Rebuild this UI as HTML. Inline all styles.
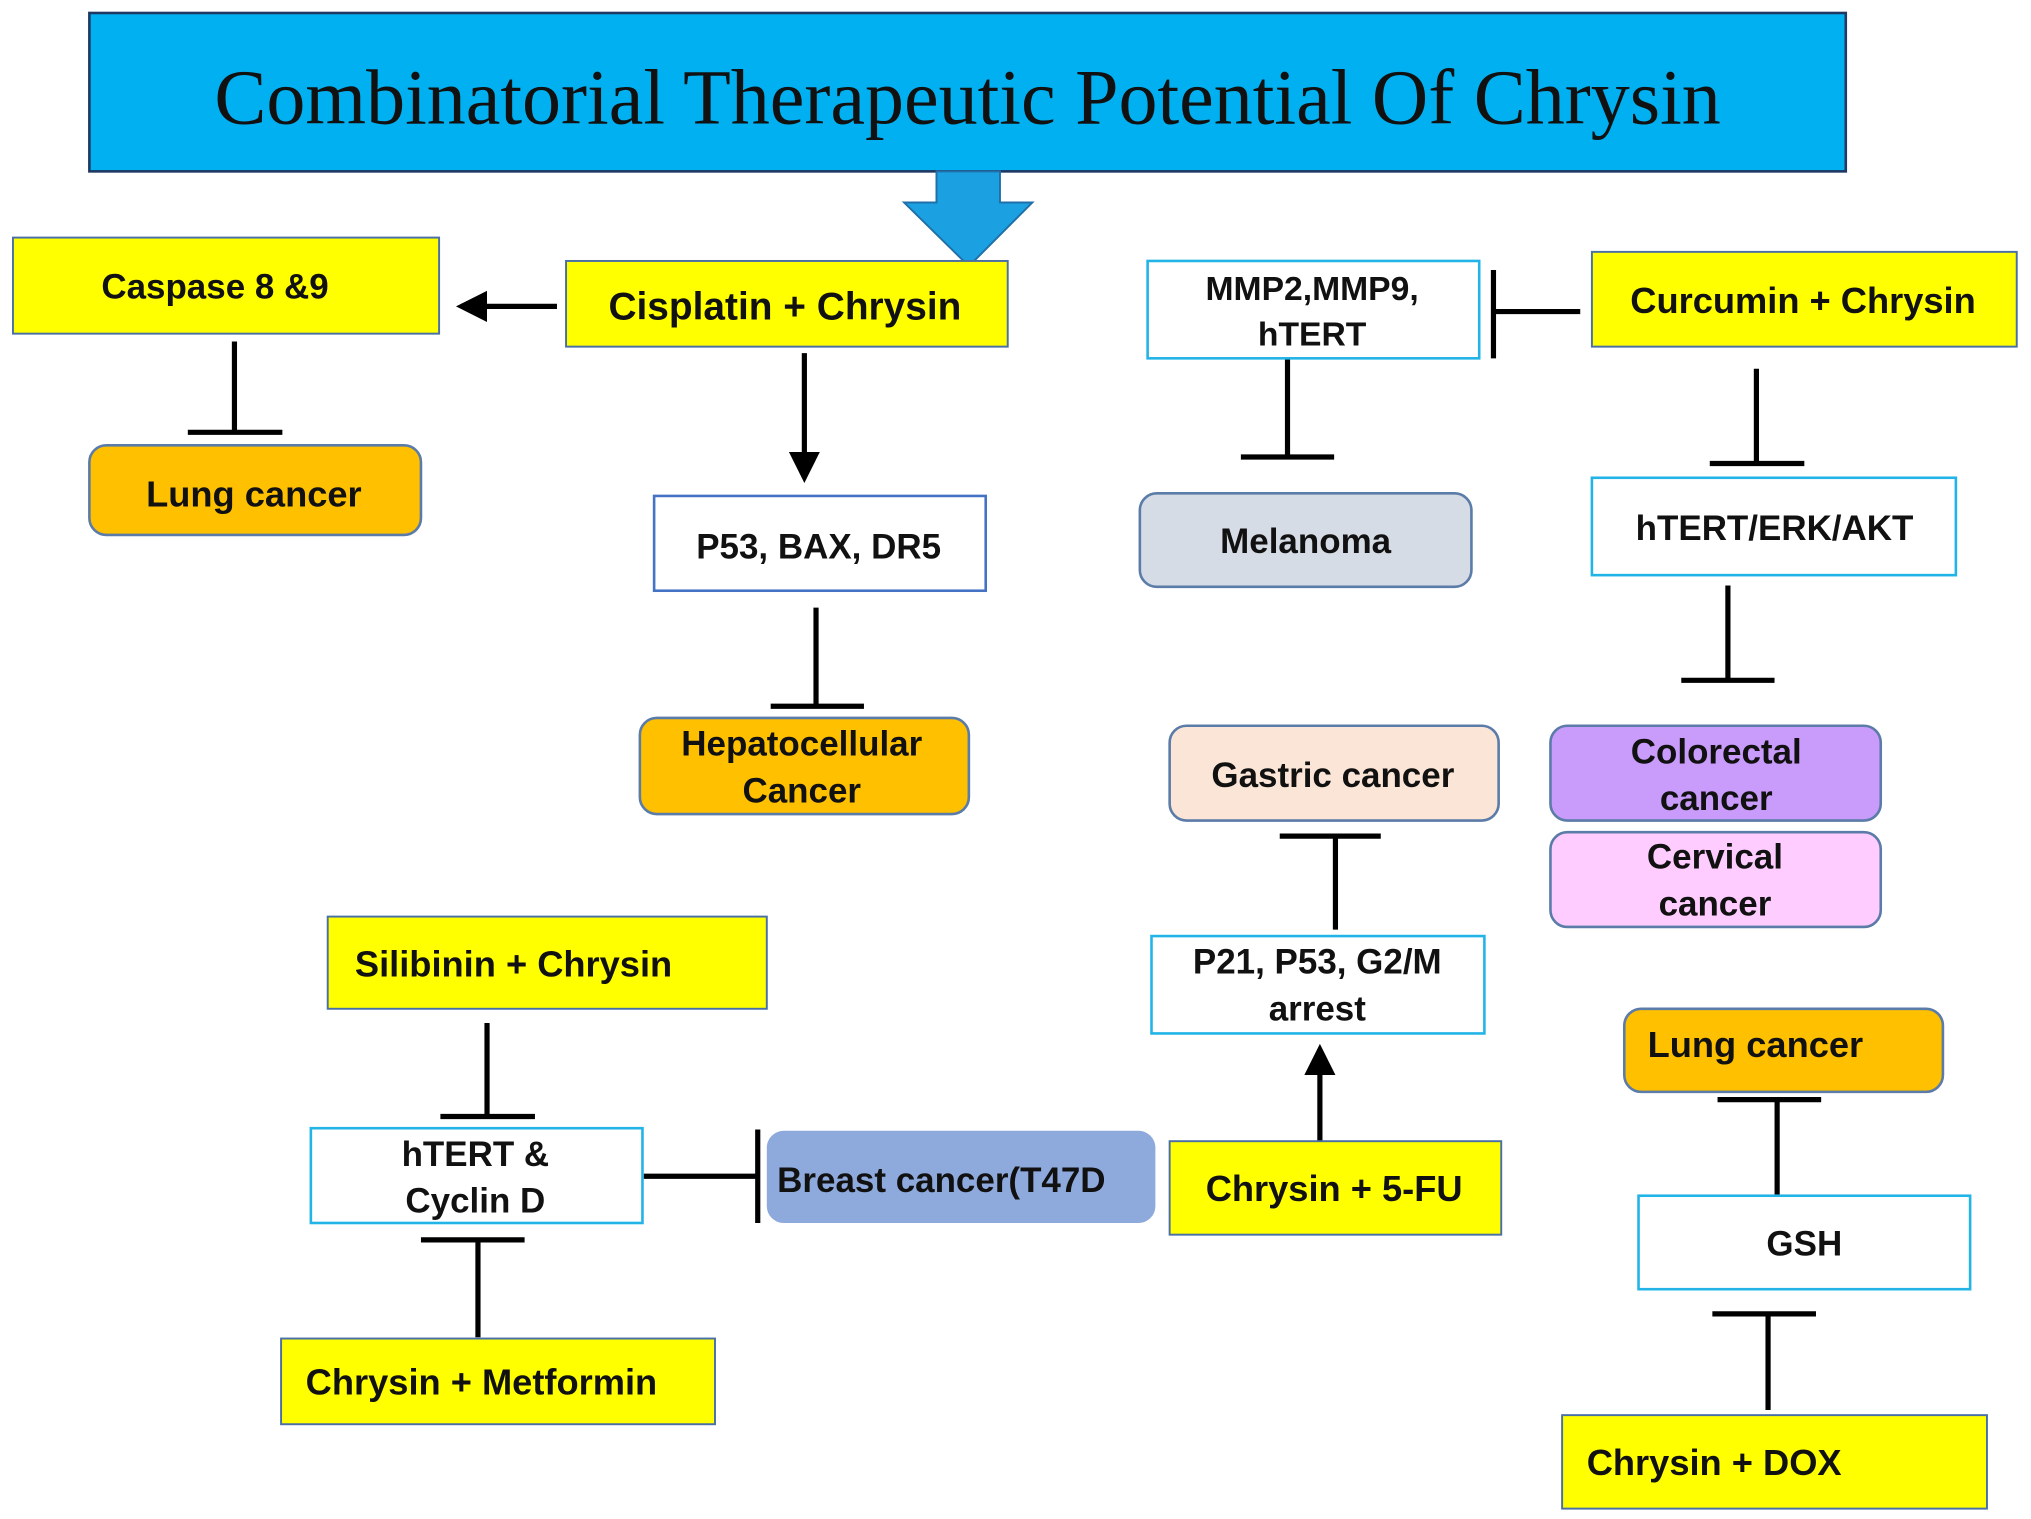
<!DOCTYPE html>
<html><head><meta charset="utf-8"><style>
html,body{margin:0;padding:0;background:#fff;}
svg{display:block;}
text{font-family:"Liberation Sans",Arial,sans-serif;font-weight:bold;fill:#111;}
.t{font-family:"Liberation Serif","Times New Roman",serif;font-weight:normal;}
</style></head><body>
<svg width="2031" height="1519" viewBox="0 0 1568 1170" preserveAspectRatio="none" xmlns="http://www.w3.org/2000/svg">
<defs>
<marker id="ah" markerWidth="6" markerHeight="6" refX="5" refY="3" orient="auto" markerUnits="strokeWidth">
<path d="M0,0 L6,3 L0,6 Z" fill="#000"/></marker>
</defs>
<!-- title -->
<rect x="69" y="10" width="1356" height="122" fill="#00B0F0" stroke="#1F3864" stroke-width="2"/>
<text class="t" x="747" y="95" font-size="60" text-anchor="middle" textLength="1163" lengthAdjust="spacingAndGlyphs">Combinatorial Therapeutic Potential Of Chrysin</text>
<path d="M723,132 L772,132 L772,156 L797,156 L748,205 L698,156 L723,156 Z" fill="#1BA1E2" stroke="#1F6FA8" stroke-width="1.5"/>

<g stroke="#000" stroke-width="4" fill="none">
<!-- cisplatin -> caspase -->
<line x1="430" y1="236" x2="356" y2="236" marker-end="url(#ah)"/>
<line x1="181" y1="263" x2="181" y2="333"/><line x1="145" y1="333" x2="218" y2="333"/>
<line x1="621" y1="272" x2="621" y2="368" marker-end="url(#ah)"/>
<line x1="630" y1="468" x2="630" y2="544"/><line x1="595" y1="544" x2="667" y2="544"/>
<!-- curcumin -->
<line x1="1220" y1="240" x2="1153" y2="240"/><line x1="1153" y1="208" x2="1153" y2="276"/>
<line x1="994" y1="276" x2="994" y2="352"/><line x1="958" y1="352" x2="1030" y2="352"/>
<line x1="1356" y1="284" x2="1356" y2="357"/><line x1="1320" y1="357" x2="1393" y2="357"/>
<line x1="1334" y1="451" x2="1334" y2="524"/><line x1="1298" y1="524" x2="1370" y2="524"/>
<!-- gastric -->
<line x1="988" y1="644" x2="1066" y2="644"/><line x1="1031" y1="644" x2="1031" y2="716"/>
<line x1="1019" y1="879" x2="1019" y2="808" marker-end="url(#ah)"/>
<!-- breast -->
<line x1="497" y1="906" x2="585" y2="906"/><line x1="585" y1="870" x2="585" y2="942"/>
<line x1="376" y1="788" x2="376" y2="860"/><line x1="340" y1="860" x2="413" y2="860"/>
<line x1="325" y1="955" x2="405" y2="955"/><line x1="369" y1="955" x2="369" y2="1030"/>
<!-- dox -->
<line x1="1326" y1="847" x2="1406" y2="847"/><line x1="1372" y1="847" x2="1372" y2="921"/>
<line x1="1322" y1="1012" x2="1402" y2="1012"/><line x1="1365" y1="1012" x2="1365" y2="1086"/>
</g>

<!-- yellow boxes -->
<g fill="#FFFF00" stroke="#4A6FA5" stroke-width="1.5">
<rect x="10" y="183" width="329" height="74"/>
<rect x="437" y="201" width="341" height="66"/>
<rect x="1229" y="194" width="328" height="73"/>
<rect x="253" y="706" width="339" height="71"/>
<rect x="217" y="1031" width="335" height="66"/>
<rect x="903" y="879" width="256" height="72"/>
<rect x="1206" y="1090" width="328" height="72"/>
</g>
<!-- white boxes -->
<g fill="#fff" stroke-width="2">
<rect x="505" y="382" width="256" height="73" stroke="#4472C4"/>
<rect x="886" y="201" width="256" height="75" stroke="#22B4E6"/>
<rect x="1229" y="368" width="281" height="75" stroke="#22B4E6"/>
<rect x="889" y="721" width="257" height="75" stroke="#22B4E6"/>
<rect x="240" y="869" width="256" height="73" stroke="#22B4E6"/>
<rect x="1265" y="921" width="256" height="72" stroke="#22B4E6"/>
</g>
<!-- rounded -->
<g stroke="#5B7BA8" stroke-width="2">
<rect x="69" y="343" width="256" height="69" rx="13" fill="#FFC000"/>
<rect x="494" y="553" width="254" height="74" rx="13" fill="#FFC000"/>
<rect x="880" y="380" width="256" height="72" rx="13" fill="#D6DCE5"/>
<rect x="903" y="559" width="254" height="73" rx="13" fill="#FBE5D6"/>
<rect x="1197" y="559" width="255" height="73" rx="13" fill="#C99BFA"/>
<rect x="1197" y="641" width="255" height="73" rx="13" fill="#FFCCFF"/>
<rect x="1254" y="777" width="246" height="64" rx="13" fill="#FFC000"/>
<rect x="592" y="871" width="300" height="71" rx="13" fill="#8EA9DB" stroke="none"/>
</g>

<g font-size="27">
<text x="166" y="230" text-anchor="middle">Caspase 8  &amp;9</text>
<text x="606" y="246" text-anchor="middle" font-size="30">Cisplatin + Chrysin</text>
<text x="196" y="390" text-anchor="middle" font-size="28">Lung cancer</text>
<text x="632" y="430" text-anchor="middle">P53, BAX, DR5</text>
<text x="619" y="582" text-anchor="middle">Hepatocellular</text>
<text x="619" y="618" text-anchor="middle">Cancer</text>
<text x="1013" y="231" text-anchor="middle" font-size="26">MMP2,MMP9,</text>
<text x="1013" y="266" text-anchor="middle" font-size="26">hTERT</text>
<text x="1392" y="241" text-anchor="middle" font-size="28">Curcumin + Chrysin</text>
<text x="1008" y="426" text-anchor="middle">Melanoma</text>
<text x="1370" y="416" text-anchor="middle">hTERT/ERK/AKT</text>
<text x="1029" y="606" text-anchor="middle">Gastric cancer</text>
<text x="1325" y="588" text-anchor="middle">Colorectal</text>
<text x="1325" y="624" text-anchor="middle">cancer</text>
<text x="1324" y="669" text-anchor="middle">Cervical</text>
<text x="1324" y="705" text-anchor="middle">cancer</text>
<text x="1017" y="750" text-anchor="middle">P21, P53, G2/M</text>
<text x="1017" y="786" text-anchor="middle">arrest</text>
<text x="274" y="752" font-size="28">Silibinin  + Chrysin</text>
<text x="367" y="898" text-anchor="middle">hTERT &amp;</text>
<text x="367" y="934" text-anchor="middle">Cyclin D</text>
<text x="600" y="918">Breast cancer(T47D</text>
<text x="1030" y="925" text-anchor="middle" font-size="28">Chrysin + 5-FU</text>
<text x="236" y="1074" font-size="28">Chrysin + Metformin</text>
<text x="1272" y="814" font-size="28">Lung cancer</text>
<text x="1393" y="967" text-anchor="middle">GSH</text>
<text x="1225" y="1136" font-size="28">Chrysin + DOX</text>
</g>
</svg>
</body></html>
